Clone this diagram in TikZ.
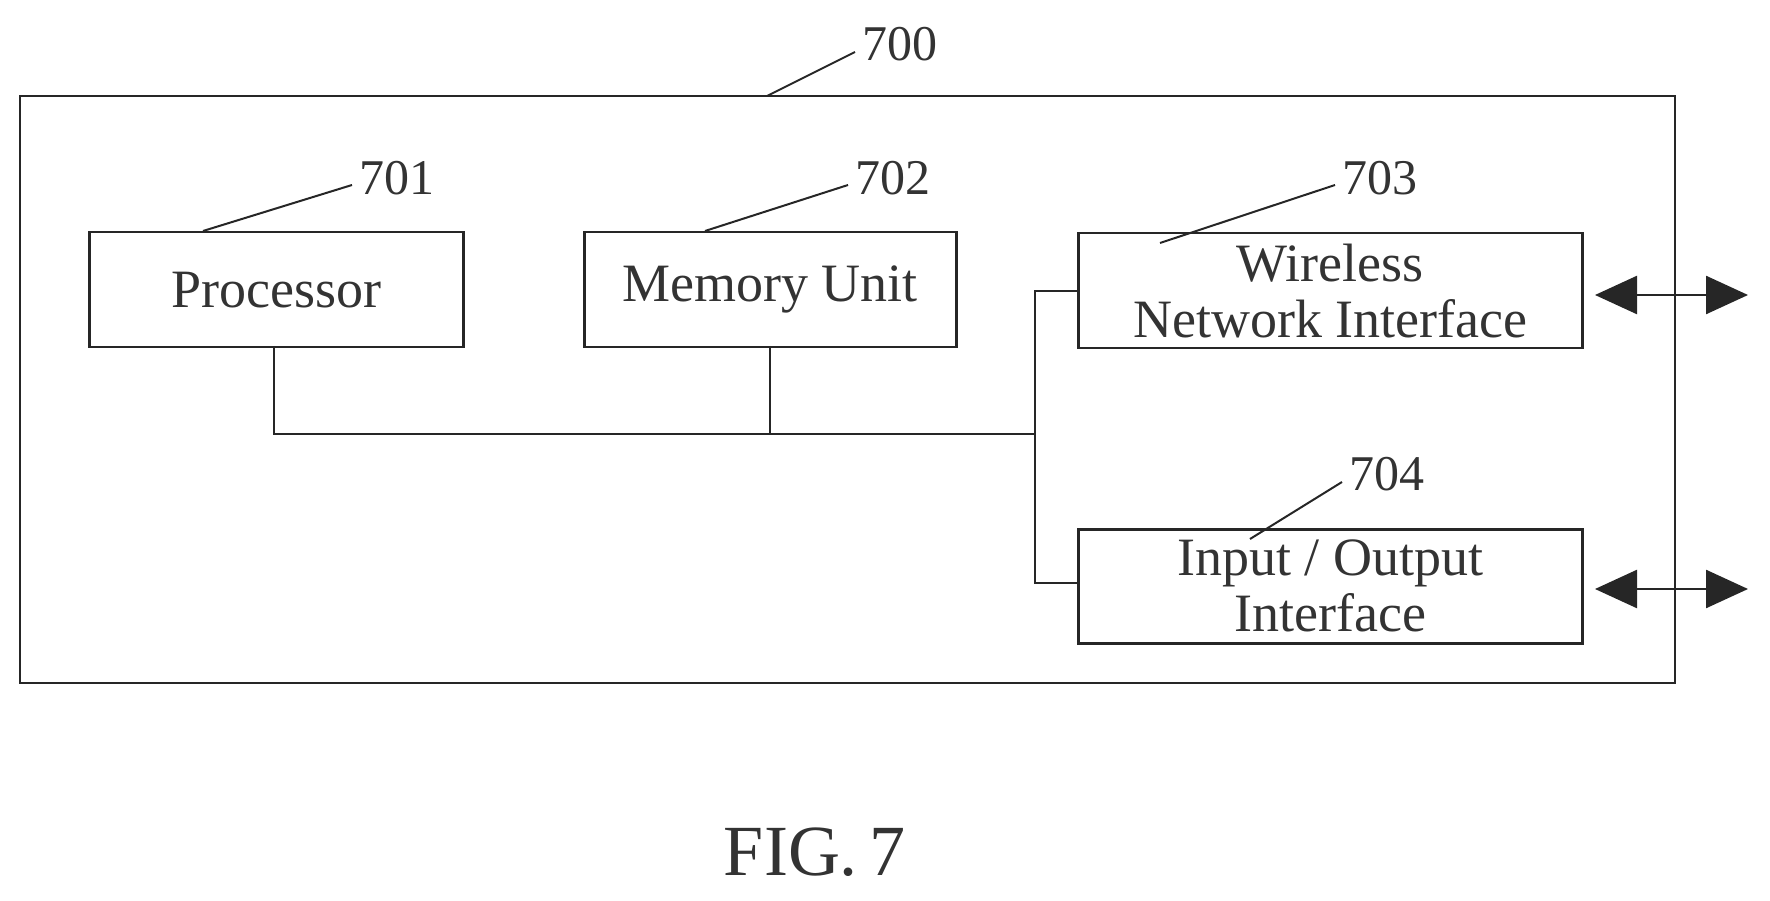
\documentclass[tikz,border=0pt]{standalone}
\usepackage{fontspec}
\setmainfont{Liberation Serif}
\usetikzlibrary{arrows.meta}
\begin{document}
\begin{tikzpicture}[x=1pt,y=-1pt,
  ln/.style={line width=2.5pt,draw=black!85},
  box/.style={ln,rectangle,inner sep=0pt},
  txt/.style={font=\fontsize{54}{56}\selectfont,align=center,text=black!80},
  lab/.style={font=\fontsize{50}{52}\selectfont,text=black!80},
  biarrow/.style={ln,{Triangle[length=42pt,width=38pt]}-{Triangle[length=42pt,width=38pt]}}]
\useasboundingbox (0,0) rectangle (1770,901);
\draw[box] (20,96) rectangle (1675,683);
\node[box,minimum width=374pt,minimum height=115pt,anchor=north west] (p) at (88,231) {};
\node[txt] at (p) {Processor};
\node[box,minimum width=372pt,minimum height=115pt,anchor=north west] (m) at (583,231) {};
\node[txt] at (m) {Memory Unit};
\node[box,minimum width=504pt,minimum height=115pt,anchor=north west] (w) at (1077,232) {};
\node[txt] at (w) {Wireless\\Network Interface};
\node[box,minimum width=504pt,minimum height=114pt,anchor=north west] (io) at (1077,528) {};
\node[txt] at (io) {Input / Output\\Interface};
\coordinate (j) at (1035,434);
\draw[ln] (274,346) |- (j) -- (1035,291) -- (1077,291);
\draw[ln] (770,346) -- (770,434);
\draw[ln] (j) |- (1077,583);
\coordinate (a1) at (1595,295); \coordinate (a2) at (1748,295);
\coordinate (b1) at (1595,589); \coordinate (b2) at (1748,589);
\draw[biarrow] (a1) -- (a2);
\draw[biarrow] (b1) -- (b2);
\node[lab] (l0) at (900,44) {700};
\node[lab] (l1) at (397,178) {701};
\node[lab] (l2) at (893,178) {702};
\node[lab] (l3) at (1380,178) {703};
\node[lab] (l4) at (1387,474) {704};
\draw[ln,line width=2pt] (767,96) -- (855,52);
\draw[ln,line width=2pt] (203,231) -- (352,185);
\draw[ln,line width=2pt] (705,231) -- (848,185);
\draw[ln,line width=2pt] (1160,243) -- (1335,185);
\draw[ln,line width=2pt] (1250,539) -- (1342,482);
\node[font=\fontsize{72}{74}\selectfont,text=black!80] (fig) at (815,852) {FIG.\,7};
\end{tikzpicture}
\end{document}
